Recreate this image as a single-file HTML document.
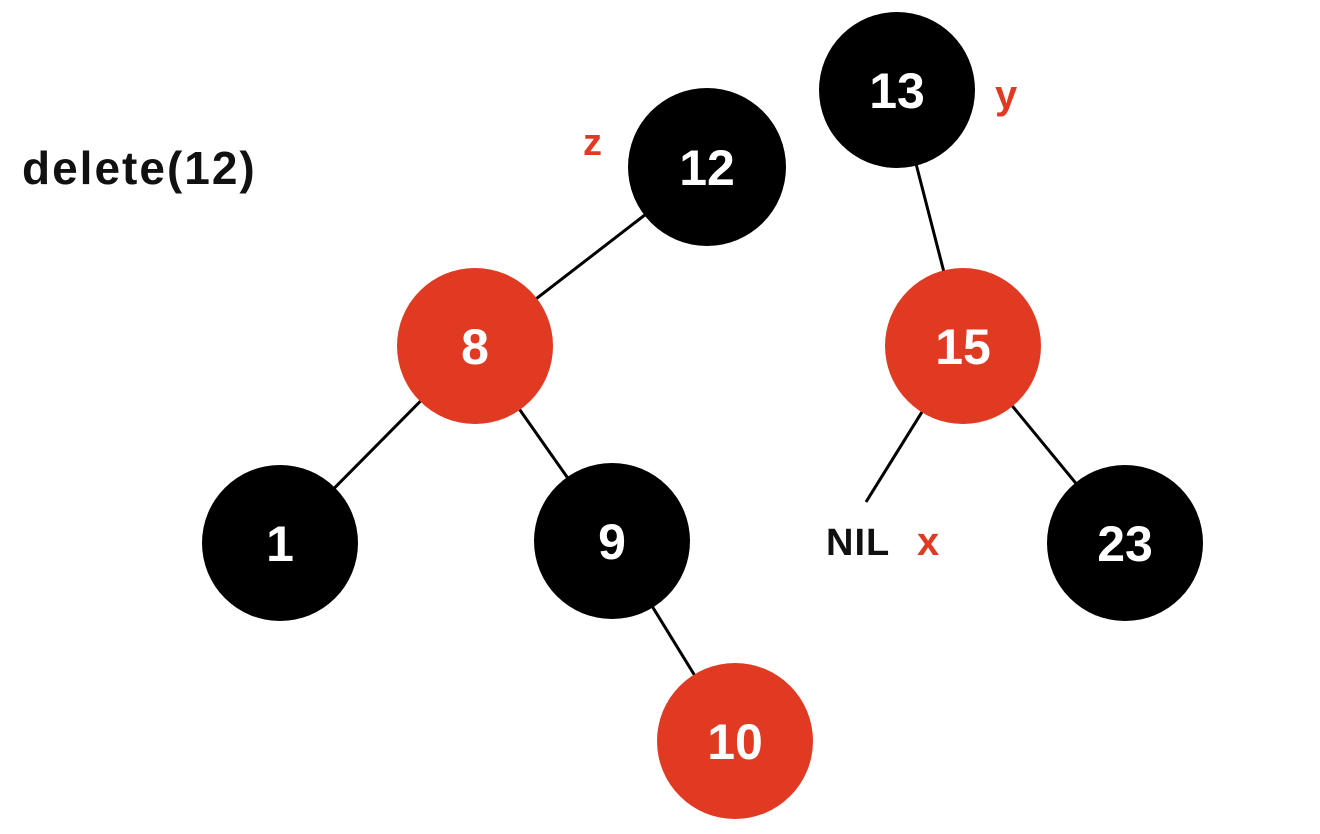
<!DOCTYPE html>
<html><head><meta charset="utf-8"><style>
html,body{margin:0;padding:0;background:#fff;}
svg{display:block;}
text{font-family:"Liberation Sans",sans-serif;font-weight:bold;}
</style></head><body>
<svg width="1320" height="834" viewBox="0 0 1320 834" xmlns="http://www.w3.org/2000/svg">
<g stroke="#000" stroke-width="3" fill="none">
<line x1="707" y1="167" x2="475" y2="346"/>
<line x1="897" y1="90" x2="963" y2="346"/>
<line x1="963" y1="346" x2="866" y2="502"/>
<line x1="963" y1="346" x2="1125" y2="543"/>
<line x1="475" y1="346" x2="280" y2="543"/>
<line x1="475" y1="346" x2="612" y2="541"/>
<line x1="612" y1="541" x2="735" y2="741"/>
</g>
<g>
<circle cx="707" cy="167" r="79" fill="#000"/>
<circle cx="897" cy="90" r="78" fill="#000"/>
<circle cx="475" cy="346" r="78" fill="#e03a22"/>
<circle cx="963" cy="346" r="78" fill="#e03a22"/>
<circle cx="280" cy="543" r="78" fill="#000"/>
<circle cx="612" cy="541" r="78" fill="#000"/>
<circle cx="1125" cy="543" r="78" fill="#000"/>
<circle cx="735" cy="741" r="78" fill="#e03a22"/>
</g>
<g fill="#fff" font-size="50" text-anchor="middle">
<text x="707" y="185">12</text>
<text x="897" y="108">13</text>
<text x="475" y="364">8</text>
<text x="963" y="364">15</text>
<text x="280" y="561">1</text>
<text x="612" y="559">9</text>
<text x="1125" y="561">23</text>
<text x="735" y="759">10</text>
</g>
<text x="22" y="184" font-size="46" letter-spacing="2" fill="#111">delete(12)</text>
<text x="583" y="155" font-size="38" fill="#e03a22">z</text>
<text x="995" y="108" font-size="40" fill="#e03a22">y</text>
<text x="826" y="555" font-size="38" letter-spacing="1" fill="#111">NIL</text>
<text x="917" y="555" font-size="40" fill="#e03a22">x</text>
</svg>
</body></html>
